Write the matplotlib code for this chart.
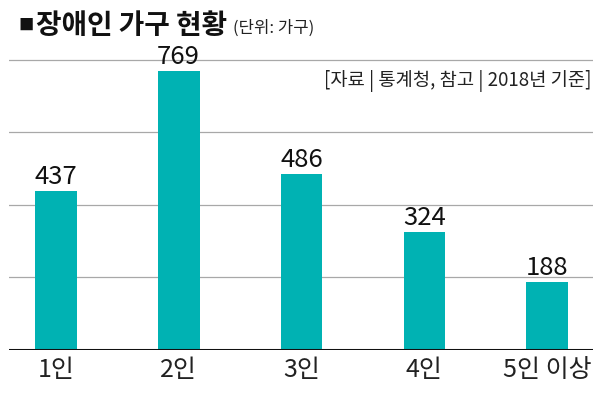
import matplotlib.pyplot as plt

plt.rcParams['font.family'] = ['Noto Sans CJK KR', 'DejaVu Sans']

categories = ['1인', '2인', '3인', '4인', '5인 이상']
households = [437, 769, 486, 324, 188]
grid_values = [200, 400, 600, 800]

fig = plt.figure(figsize=(6, 3.94), dpi=100)
ax = fig.add_axes([0.015, 0.112, 0.973, 0.792])

x = range(len(categories))
ax.bar(x, households, width=0.34, color='#00B2B3', zorder=3)

for v in grid_values:
    ax.axhline(v, color='#A8A8A8', linewidth=0.9, zorder=1)
ax.axhline(0, color='#111111', linewidth=2.2, zorder=4)

# value labels just above each bar
for i, v in zip(x, households):
    ax.text(i, v + 19, str(v), ha='center', va='baseline', fontsize=18.5, color='#111111', zorder=5)

ax.set_xlim(-0.38, 4.37)
ax.set_ylim(0, 860)
ax.set_xticks(list(x))
ax.set_xticklabels(categories, fontsize=18, color='#222222')
ax.tick_params(axis='x', length=0, pad=5)
ax.set_yticks([])
for s in ax.spines.values():
    s.set_visible(False)

fig.text(0.03, 0.935, '■', fontsize=11, va='center', color='#111111')
fig.text(0.06, 0.935, '장애인 가구 현황', fontsize=20, fontweight='bold', va='center', color='#111111')
fig.text(0.388, 0.928, '(단위: 가구)', fontsize=12, va='center', color='#222222')
fig.text(0.985, 0.795, '[자료 | 통계청, 참고 | 2018년 기준]', fontsize=13.5, ha='right', va='center',
         color='#222222')

fig.savefig('out.png', dpi=100)
